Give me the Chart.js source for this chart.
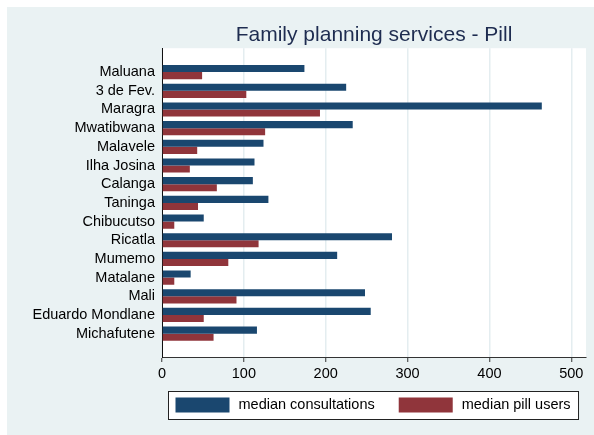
<!DOCTYPE html>
<html>
<head>
<meta charset="utf-8">
<script src="https://cdn.jsdelivr.net/npm/chart.js@4.4.1/dist/chart.umd.min.js"></script>
<style>
  html, body { margin: 0; padding: 0; background: #ffffff; }
  #chart { position: absolute; left: 7px; top: 7px; background: #eaf2f3; }
</style>
</head>
<body>
<canvas id="chart" width="587" height="428"></canvas>
<script>
// Health facilities, top to bottom
const categories = ['Maluana', '3 de Fev.', 'Maragra', 'Mwatibwana', 'Malavele', 'Ilha Josina',
  'Calanga', 'Taninga', 'Chibucutso', 'Ricatla', 'Mumemo', 'Matalane', 'Mali',
  'Eduardo Mondlane', 'Michafutene'];
const consultations = [174, 225, 464, 233, 124, 113, 111, 130, 51, 281, 214, 35, 248, 255, 116];
const pillUsers = [49, 103, 193, 126, 43, 34, 67, 44, 15, 118, 81, 15, 91, 51, 63];
const xTicks = [0, 100, 200, 300, 400, 500];
const seriesLabels = ['median consultations', 'median pill users'];

const NAVY = '#1a476f';
const MAROON = '#90353b';
const FONT = 'Arial, "Liberation Sans", sans-serif';

// White plot region behind the bars
const plotBackground = {
  id: 'plotBackground',
  beforeDraw(chart) {
    const { ctx, chartArea: a } = chart;
    ctx.save();
    ctx.fillStyle = '#ffffff';
    ctx.fillRect(a.left, a.top, a.right - a.left, a.bottom - a.top);
    ctx.restore();
  }
};

// Framed legend under the x axis
const boxedLegend = {
  id: 'boxedLegend',
  afterDraw(chart) {
    const { ctx, chartArea: a } = chart;
    const sets = chart.data.datasets;
    const padL = 7, padR = 8, swW = 54, swH = 15, gap = 9, itemGap = 24;
    ctx.save();
    ctx.font = '14.5px ' + FONT;
    const widths = sets.map(d => ctx.measureText(d.label).width);
    let total = padL + padR;
    widths.forEach((w, i) => { total += swW + gap + w + (i ? itemGap : 0); });
    const boxH = 28;
    const top = 384;
    const left = Math.round((a.left + a.right) / 2 - total / 2) - 0.5;
    const mid = top + boxH / 2;

    ctx.fillStyle = '#ffffff';
    ctx.fillRect(left, top, total, boxH);
    ctx.strokeStyle = '#222222';
    ctx.lineWidth = 1;
    ctx.strokeRect(left, top + 0.5, total, boxH);

    let x = left + padL;
    sets.forEach((d, i) => {
      if (i) x += itemGap;
      ctx.fillStyle = d.backgroundColor;
      ctx.fillRect(x, mid - swH / 2, swW, swH);
      x += swW + gap;
      ctx.fillStyle = '#000000';
      ctx.textBaseline = 'middle';
      ctx.textAlign = 'left';
      ctx.fillText(d.label, x, mid);
      x += widths[i];
    });
    ctx.restore();
  }
};

new Chart(document.getElementById('chart'), {
  type: 'bar',
  data: {
    datasets: [{
      label: seriesLabels[0],
      data: consultations.map((v, i) => ({ x: v, y: i })),
      backgroundColor: NAVY
    }, {
      label: seriesLabels[1],
      data: pillUsers.map((v, i) => ({ x: v, y: i })),
      backgroundColor: MAROON
    }]
  },
  options: {
    responsive: false,
    animation: false,
    indexAxis: 'y',
    categoryPercentage: 0.76,
    barPercentage: 1.0,
    layout: {
      padding: { left: 0, right: 8, top: 0, bottom: 50 }
    },
    plugins: {
      legend: { display: false },
      tooltip: { enabled: false },
      title: {
        display: true,
        text: 'Family planning services - Pill',
        color: '#1e2c50',
        fullSize: false,
        font: { family: FONT, size: 21, weight: 'normal' },
        padding: { top: 16, bottom: 0 }
      }
    },
    scales: {
      x: {
        type: 'linear',
        position: 'bottom',
        min: 0,
        max: 518,
        afterBuildTicks(scale) {
          scale.ticks = xTicks.map(v => ({ value: v }));
        },
        afterFit(scale) {
          scale.height = 28;
        },
        grid: {
          color: '#e4edf0',
          lineWidth: 1.5,
          tickColor: '#333333',
          tickLength: 5,
          tickWidth: 1
        },
        border: { color: '#333333', width: 1 },
        ticks: {
          color: '#000000',
          padding: 3,
          maxRotation: 0,
          font: { family: FONT, size: 14.5 }
        }
      },
      y: {
        type: 'linear',
        reverse: true,
        offset: false,
        min: -1.28,
        max: 15.25,
        afterBuildTicks(scale) {
          scale.ticks = categories.map((c, i) => ({ value: i }));
        },
        afterFit(scale) {
          scale.width = 155;
        },
        grid: { display: false, drawTicks: false },
        border: { color: '#111111', width: 1 },
        ticks: {
          color: '#000000',
          padding: 7,
          autoSkip: false,
          font: { family: FONT, size: 14.5 },
          callback: v => categories[v]
        }
      }
    }
  },
  plugins: [plotBackground, boxedLegend]
});
</script>
</body>
</html>
